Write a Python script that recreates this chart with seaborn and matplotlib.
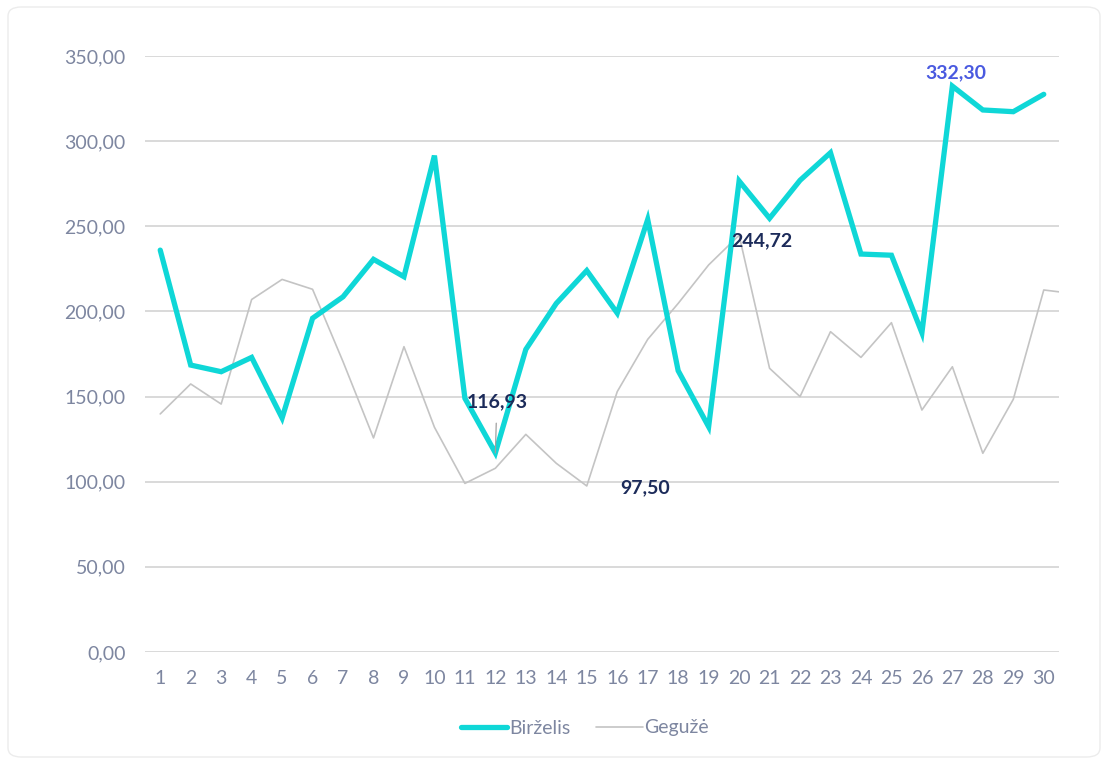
import matplotlib
matplotlib.use("Agg")
import matplotlib.pyplot as plt
import seaborn as sns
import pandas as pd
import numpy as np
from matplotlib.patches import FancyBboxPatch
from matplotlib.lines import Line2D

days = list(range(1, 31))
days_may = list(range(1, 32))
birzelis = [236.0, 168.5, 164.6, 173.0, 137.4, 196.0, 208.6, 230.6, 220.4, 291.5,
            149.0, 116.93, 177.7, 204.7, 224.0, 199.0, 254.0, 165.2, 132.3, 276.6,
            254.7, 277.0, 293.2, 233.7, 233.0, 187.5, 332.30, 318.3, 317.3, 327.5]
geguze = [139.8, 157.4, 145.6, 207.0, 218.8, 213.0, 170.5, 125.7, 179.3, 132.0,
          99.0, 107.9, 127.8, 110.8, 97.50, 152.9, 183.6, 204.7, 227.3, 244.72,
          166.6, 150.0, 188.1, 173.0, 193.4, 142.1, 167.5, 116.7, 148.4, 212.6, 210.4]
yticks = [0, 50, 100, 150, 200, 250, 300, 350]

sns.set_theme(style="white")
plt.rcParams['font.family'] = ['Lato', 'DejaVu Sans']

df = pd.concat([
    pd.DataFrame({"day": days, "value": birzelis, "series": "Birželis"}),
    pd.DataFrame({"day": days_may, "value": geguze, "series": "Gegužė"}),
])

fig = plt.figure(figsize=(11.05, 7.62), dpi=100)
fig.patch.set_facecolor("white")
card = FancyBboxPatch((8/1105, 5/762), 1092/1105, 750/762,
                      boxstyle="round,pad=0,rounding_size=0.012",
                      transform=fig.transFigure, facecolor="white",
                      edgecolor="#ececec", linewidth=1.0, zorder=-10)
fig.patches.append(card)

ax = fig.add_axes([145/1105, 1 - 652/762, (1059 - 145)/1105, (652 - 56)/762])
ax.set_facecolor("none")
ax.set_zorder(2)

cyan = "#0fd7d7"
gray = "#c4c4c4"
sns.lineplot(data=df, x="day", y="value", hue="series",
             palette={"Birželis": cyan, "Gegužė": gray},
             hue_order=["Gegužė", "Birželis"], ax=ax, legend=False)
for ln in ax.get_lines():
    if matplotlib.colors.to_hex(ln.get_color()) == cyan:
        ln.set_linewidth(3.8)
        ln.set_zorder(3)
        ln.set_solid_capstyle("round")
        ln.set_solid_joinstyle("miter")
    else:
        ln.set_linewidth(1.2)
        ln.set_zorder(2)

ax.set_xlim(0.5, 30.5)
ax.set_ylim(0, 350)
ax.set_yticks(yticks)
ax.set_yticklabels([f"{v:.2f}".replace(".", ",") for v in yticks])
ax.set_xticks(days)
ax.set_xticklabels([str(d) for d in days])
ax.grid(axis="y", color="#d9d9d9", linewidth=1.4)
ax.set_axisbelow(True)
for s in ax.spines.values():
    s.set_visible(False)
ax.tick_params(axis="both", length=0, labelsize=14, colors="#7d86a0")
ax.tick_params(axis="y", pad=14)
ax.tick_params(axis="x", pad=13)
ax.set_xlabel("")
ax.set_ylabel("")

navy = "#1c2b5a"
fs = 14
ax.annotate("116,93", xy=(12, birzelis[11]), xytext=(12.05, 147),
            ha="center", va="center", fontsize=fs, fontweight="bold", color=navy,
            arrowprops=dict(arrowstyle="-", color="#a0a0a0", lw=0.9, shrinkA=7, shrinkB=0),
            zorder=5)
ax.text(16.9, geguze[14] - 1, "97,50", ha="center", va="center", fontsize=fs,
        fontweight="bold", color=navy, zorder=5)
ax.text(20.75, geguze[19] - 3, "244,72", ha="center", va="center", fontsize=fs,
        fontweight="bold", color=navy, zorder=5)
ax.text(27.1, birzelis[26] + 8, "332,30", ha="center", va="center", fontsize=fs,
        fontweight="bold", color="#4a5ae0", zorder=5)

handles = [Line2D([], [], color=cyan, lw=3.8, solid_capstyle="round"),
           Line2D([], [], color=gray, lw=1.2)]
leg = fig.legend(handles, ["Birželis", "Gegužė"], loc="center",
                 bbox_to_anchor=(585/1105, 1 - 728/762), ncol=2, frameon=False,
                 fontsize=14, handlelength=2.4, handletextpad=0.1, columnspacing=1.3)
for t in leg.get_texts():
    t.set_color("#7d86a0")

fig.savefig("out.png", dpi=100)
